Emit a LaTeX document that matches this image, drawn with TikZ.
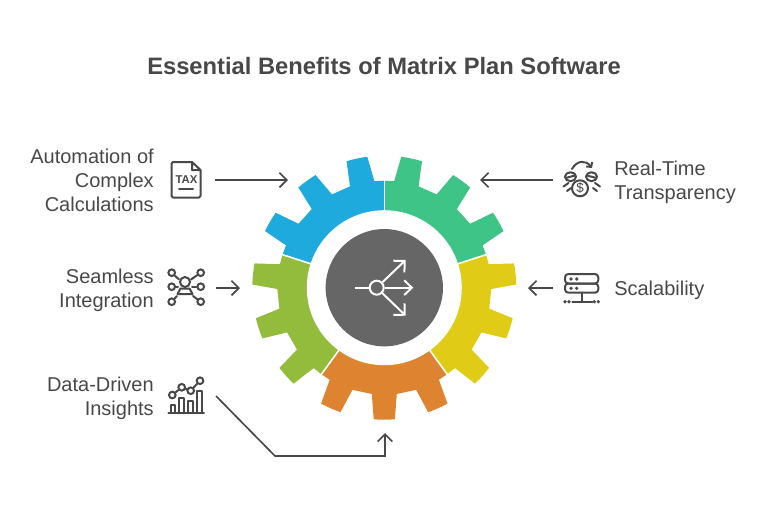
\documentclass[tikz,border=0pt]{standalone}
\usepackage{fontspec}
\setmainfont{Liberation Sans}
\usetikzlibrary{arrows.meta,positioning}
\definecolor{inkgray}{HTML}{484848}
\definecolor{hubgray}{HTML}{666666}
\definecolor{gearblue}{HTML}{1EAADC}
\definecolor{geargreen}{HTML}{3EC487}
\definecolor{gearyellow}{HTML}{E0CC17}
\definecolor{gearorange}{HTML}{DE8431}
\definecolor{gearolive}{HTML}{93BC3C}
\tikzset{%
  title/.style    = {font=\fontsize{17.8}{22}\selectfont\bfseries, text=inkgray},
  benefit/.style  = {font=\fontsize{15}{18}\selectfont, text=inkgray, inner sep=0pt}, % Labels
  connection/.style = {-{Straight Barb[length=5.5pt,width=11pt]}, draw=inkgray, line width=1.25pt},
  icon/.style     = {draw=inkgray, line width=1.5pt, line join=round, line cap=round},
  dot/.style      = {circle, draw=inkgray, line width=1.5pt, inner sep=0pt, minimum size=5pt}
}

\begin{document}
\begin{tikzpicture}[x=0.75pt,y=-0.75pt]
    \useasboundingbox (0,0) rectangle (768,504);

    % Title
    \node[title] (T) at (384,66) {Essential Benefits of Matrix Plan Software};

    % Gear segments
    \begin{scope}[shift={(384.3,287.7)},yscale=-1]
        \foreach \col/\s in {geargreen/18,gearblue/90,gearolive/162,gearorange/234,gearyellow/306} {
            \fill[\col] (\s:70) -- (\s:107)
                \foreach \c in {12,36,60} {
                    -- ({\s+\c-6.7}:107) -- ({\s+\c-4.6}:132)
                    arc ({\s+\c-4.6}:{\s+\c+4.6}:132) -- ({\s+\c+6.7}:107)
                } -- ({\s+72}:107) -- ({\s+72}:70) -- cycle;
        }
        \foreach \s in {18,90,162,234,306}
            \draw[white, line width=1.2pt] (\s:70) -- (\s:112);
    \end{scope}

    % Hub
    \node[circle, fill=white, inner sep=0pt, minimum size=116.25pt] (R) at (384.3,287.7) {};
    \node[circle, fill=hubgray, inner sep=0pt, minimum size=88pt] (H) at (384.3,287.7) {};

    % Hub icon
    \node[circle, draw=white, line width=1.5pt, inner sep=0pt, minimum size=10.5pt] (C) at (376.7,287.7) {};
    \coordinate (C-in) at (355,287.7);
    \coordinate (C-1) at (405.7,260);
    \coordinate (C-2) at (413.3,287.7);
    \coordinate (C-3) at (405.7,315.7);
    \draw[white, line width=1.5pt] (C-in) -- (C);
    \draw[white, line width=1.5pt, -{Straight Barb[length=5.7pt,width=11pt]}] (C) -- (C-2);
    \foreach \i in {1,3}
        \draw[white, line width=1.5pt, -{Straight Barb[length=6pt,width=12pt]}] (C) -- (C-\i);

    % Labels
    \node[benefit, align=right, anchor=east] (L-1) at (154,180) {Automation of\\Complex\\Calculations};
    \node[benefit, align=right, anchor=east] (L-2) at (154,290.5) {Seamless\\Integration};
    \node[benefit, align=right, anchor=east] (L-3) at (154,398.5) {Data-Driven\\Insights};
    \node[benefit, align=left, anchor=west] (R-1) at (614,182.5) {Real-Time\\Transparency};
    \node[benefit, align=left, anchor=west] (R-2) at (614,290) {Scalability};

    % Connectors
    \coordinate (A-1) at (215,180);
    \coordinate (B-1) at (288,180);
    \coordinate (A-2) at (216,288);
    \coordinate (B-2) at (240,288);
    \coordinate (A-3) at (216,396);
    \coordinate (K-3) at (275,456);
    \coordinate (M-3) at (385,456);
    \coordinate (B-3) at (385,433);
    \coordinate (A-4) at (553,180);
    \coordinate (B-4) at (480,180);
    \coordinate (A-5) at (553,288);
    \coordinate (B-5) at (528,288);
    \foreach \i in {1,2,4,5}
        \draw[connection] (A-\i) -- (B-\i);
    \draw[connection] (A-3) -- (K-3) -- (M-3) -- (B-3);

    % Tax icon
    \draw[icon] (192,162) -- (173,162) -- (171.5,163.5) -- (171.5,196) -- (173,197.5)
        -- (199,197.5) -- (200.5,196) -- (200.5,170) -- (192,162) -- (192,170) -- (200.5,170);
    \node[inner sep=0pt, text=inkgray, font=\fontsize{8.5}{9}\selectfont\bfseries] (X) at (186.5,179.3) {TAX};
    \draw[icon] (179,188.7) -- (193,188.7);

    % Integration icon
    \node[circle, icon, inner sep=0pt, minimum size=7.5pt] (N-0) at (185,282) {};
    \draw[icon] (177.5,294) -- (180.5,288.5) -- (189.5,288.5) -- (192.5,294) -- cycle;
    \foreach \i/\x/\y in {1/171.7/272.7,2/200.7/272.7,3/171.7/286.7,4/200.7/286.7,5/171.7/301.7,6/200.7/301.7}
        \node[dot] (N-\i) at (\x,\y) {};
    \draw[icon] (N-1) -- (179,279.5);
    \draw[icon] (N-2) -- (191,279.5);
    \draw[icon] (N-3) -- (178,286.7);
    \draw[icon] (N-4) -- (192,286.7);
    \draw[icon] (N-5) -- (177,296);
    \draw[icon] (N-6) -- (193,296);

    % Chart icon
    \draw[icon] (168.3,413.3) -- (204,413.3);
    \foreach \a/\b/\t in {170.5/175/405,178.5/184/398.3,187.7/192.7/401,196.7/202/390.7}
        \draw[icon] (\a,413.3) -- (\a,\t) -- (\b,\t) -- (\b,413.3);
    \foreach \i/\x/\y in {1/172.3/395,2/181.7/387.3,3/190.7/390.7,4/200/380.7}
        \node[dot] (P-\i) at (\x,\y) {};
    \foreach \i/\j in {1/2,2/3,3/4}
        \draw[icon] (P-\i) -- (P-\j);

    % Money icon
    \node[circle, icon, inner sep=0pt, minimum size=12pt, font=\fontsize{10}{10}\selectfont, text=inkgray] (D) at (580,188.3) {\$};
    \draw[icon] (570.5,176.7) ellipse (5.5 and 4.5);
    \draw[icon] (565.5,178) -- (575,175.5);
    \draw[icon] (591.5,176.7) ellipse (5.5 and 4.5);
    \draw[icon] (587,175.5) -- (596.5,178);
    \draw[icon] (563.5,186.5) -- (568.5,183);
    \draw[icon] (567,191) -- (571,188);
    \draw[icon] (600,186.5) -- (595,183);
    \draw[icon] (597,191) -- (593,188);
    \draw[icon, -{Straight Barb[length=2.5pt,width=5.5pt]}] (572,169) .. controls (577,160) and (586,160) .. (592,168);

    % Server icon
    \draw[icon, rounded corners=2.5pt] (565,274) rectangle (598.3,283.5);
    \draw[icon, rounded corners=2.5pt] (565,283.5) rectangle (598.3,292.7);
    \foreach \x in {571,576.7} {
        \fill[inkgray] (\x,279) circle (1.8);
        \fill[inkgray] (\x,288.3) circle (1.8);
    }
    \draw[icon] (582.3,292.7) -- (582.3,301.7);
    \draw[icon] (572.3,301.7) -- (592.3,301.7);
    \foreach \x in {565,569,594.3,598.3}
        \fill[inkgray] (\x,301.7) circle (1.8);

\end{tikzpicture}
\end{document}
